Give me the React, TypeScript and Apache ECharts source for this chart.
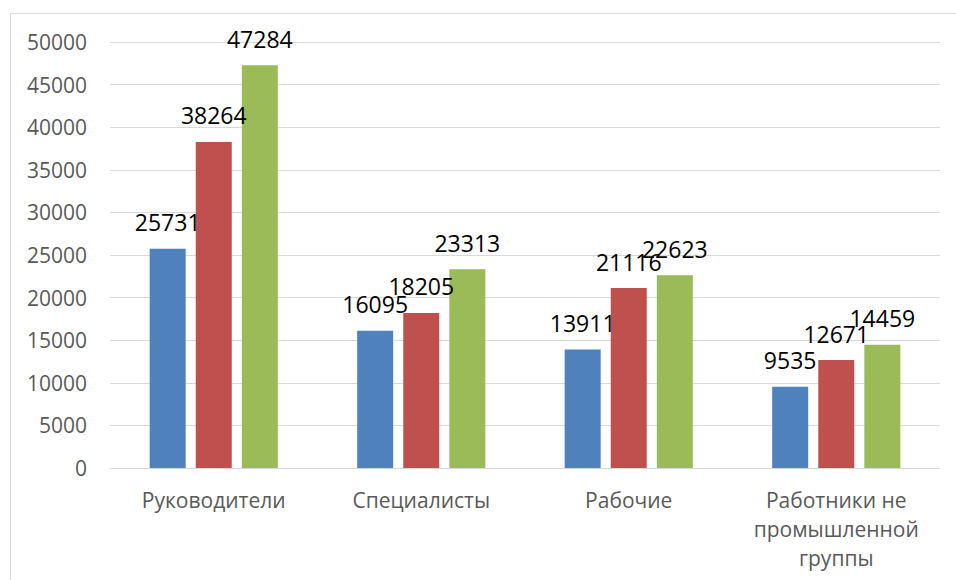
import React, { useEffect, useRef } from "react";
import * as echarts from "echarts";

const categories = [
  "Руководители",
  "Специалисты",
  "Рабочие",
  "Работники не\nпромышленной\nгруппы",
];
const series1 = [25731, 16095, 13911, 9535];
const series2 = [38264, 18205, 21116, 12671];
const series3 = [47284, 23313, 22623, 14459];
const colors = ["#4f81bd", "#c0504d", "#9bbb59"];

const FONT = "'Open Sans', 'Noto Sans', sans-serif";

export default function App() {
  const ref = useRef<HTMLDivElement>(null);
  useEffect(() => {
    if (!ref.current) return;
    const chart = echarts.init(ref.current, undefined, { renderer: "svg" });
    const label = {
      show: true,
      position: "top",
      distance: 15,
      color: "#000000",
      fontSize: 23,
      fontFamily: FONT,
    };
    const mk = (data: number[], i: number) => ({
      type: "bar",
      data,
      barWidth: 36,
      barGap: "28%",
      itemStyle: { color: colors[i] },
      label,
    });
    chart.setOption({
      animation: false,
      backgroundColor: "#ffffff",
      grid: { left: 110, right: 16, top: 42, bottom: 112, containLabel: false },
      xAxis: {
        type: "category",
        data: categories,
        axisLine: { show: true, lineStyle: { color: "#d9d9d9", width: 1 } },
        axisTick: { show: false },
        axisLabel: {
          color: "#595959",
          fontSize: 21,
          fontFamily: FONT,
          lineHeight: 29,
          margin: 17,
          interval: 0,
        },
      },
      yAxis: {
        type: "value",
        min: 0,
        max: 50000,
        interval: 5000,
        axisLine: { show: false },
        axisTick: { show: false },
        splitLine: { lineStyle: { color: "#d9d9d9", width: 1 } },
        axisLabel: {
          color: "#595959",
          fontSize: 21,
          fontFamily: FONT,
          margin: 23,
          formatter: (v: number) => String(v),
        },
      },
      graphic: [
        {
          type: "rect",
          silent: true,
          shape: { x: 10.5, y: 13.5, width: 2000, height: 2000 },
          style: { fill: "none", stroke: "#d9d9d9", lineWidth: 1 },
        },
      ],
      series: [mk(series1, 0), mk(series2, 1), mk(series3, 2)],
    });
    return () => chart.dispose();
  }, []);
  return (
    <div
      ref={ref}
      style={{ position: "fixed", left: 0, top: 0, width: 956, height: 580 }}
    />
  );
}
